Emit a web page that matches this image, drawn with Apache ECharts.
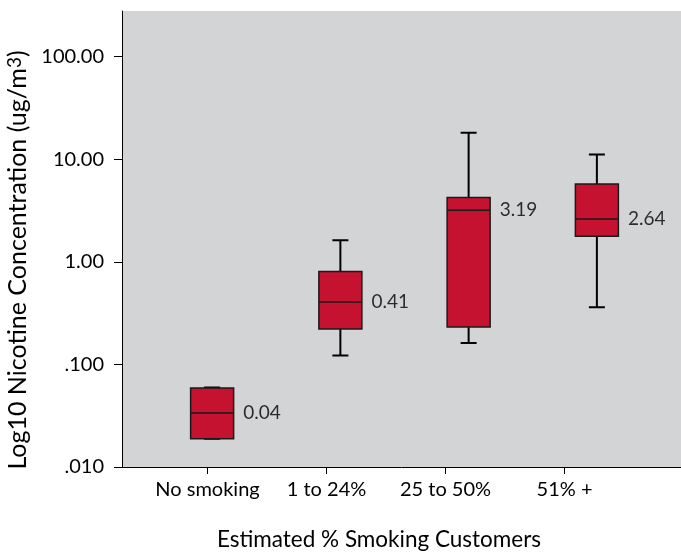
<!DOCTYPE html>
<html><head><meta charset="utf-8">
<script src="https://cdn.jsdelivr.net/npm/echarts@6/dist/echarts.min.js"></script>
<style>html,body{margin:0;padding:0;background:#fff}#c{width:681px;height:552px}</style>
</head><body><div id="c"></div>
<script>
const categories = ['No smoking', '1 to 24%', '25 to 50%', '51% +'];
const whiskerMin = [0.0189, 0.122, 0.162, 0.360];
const q1 = [0.0189, 0.221, 0.231, 1.77];
const median = [0.0336, 0.405, 3.17, 2.61];
const q3 = [0.0589, 0.805, 4.24, 5.73];
const whiskerMax = [0.0597, 1.62, 18.1, 11.1];
const medianLabels = ['0.04', '0.41', '3.19', '2.64'];
const yTickValues = [0.01, 0.1, 1, 10, 100];
const yTickLabels = ['.010', '.100', '1.00', '10.00', '100.00'];

const FONT = 'Lato';
const yMin = 0.01, yMax = 278;

const chart = echarts.init(document.getElementById('c'), null, {renderer: 'canvas'});
const yLabelFor = v => {
  const i = yTickValues.findIndex(t => Math.abs(Math.log10(t / v)) < 1e-6);
  return i >= 0 ? yTickLabels[i] : '';
};

chart.setOption({
  animation: false,
  grid: [
    {left: 122, right: 0, top: 11, bottom: 85, show: true, backgroundColor: '#d3d4d6', borderWidth: 0, outerBoundsMode: 'none', containLabel: false},
    {left: 148, right: 20, top: 11, bottom: 85, outerBoundsMode: 'none', containLabel: false},
    {left: 148, right: 57, top: 11, bottom: 85, outerBoundsMode: 'none', containLabel: false}
  ],
  xAxis: [
    {gridIndex: 0, type: 'value', min: 0, max: 1,
     axisLine: {show: true, onZero: false, lineStyle: {color: '#000', width: 1}},
     axisTick: {show: false}, axisLabel: {show: false}, splitLine: {show: false}},
    {gridIndex: 1, type: 'category', data: categories, show: false, position: 'bottom'},
    {gridIndex: 2, type: 'category', data: categories,
     axisLine: {show: false},
     axisTick: {show: true, alignWithLabel: true, length: 7, lineStyle: {color: '#000', width: 1}},
     axisLabel: {show: true, interval: 0, margin: 13, fontSize: 20, fontFamily: FONT, color: '#000'},
     splitLine: {show: false},
     name: 'Estimated % Smoking Customers', nameLocation: 'middle', nameGap: 61,
     nameTextStyle: {fontSize: 22.5, fontFamily: FONT, color: '#000', padding: [0, 14, 0, 0]}},
    {gridIndex: 1, type: 'category', data: categories, show: false, position: 'top'}
  ],
  yAxis: [
    {gridIndex: 0, type: 'log', logBase: 10, min: yMin, max: yMax,
     axisLine: {show: true, lineStyle: {color: '#000', width: 1}},
     axisTick: {show: true, length: 8, lineStyle: {color: '#000', width: 1}, customValues: yTickValues},
     axisLabel: {show: true, margin: 18, fontSize: 20, fontFamily: FONT, color: '#000',
                 customValues: yTickValues, formatter: yLabelFor},
     splitLine: {show: false},
     name: '{a|Log10 Nicotine Concentration (ug/m}{s|3}{a|)}',
     nameLocation: 'middle', nameGap: 83,
     nameTextStyle: {
       padding: [0, 42, 0, 0],
       rich: {
         a: {fontSize: 25, fontFamily: FONT, color: '#000'},
         s: {fontSize: 19, fontFamily: FONT, color: '#000', padding: [0, 0, 6, 0]}
       }
     }},
    {gridIndex: 1, type: 'log', logBase: 10, min: yMin, max: yMax, show: false},
    {gridIndex: 2, type: 'value', show: false}
  ],
  series: [
    {
      type: 'boxplot', xAxisIndex: 1, yAxisIndex: 1, silent: true,
      boxWidth: [16, 16],
      itemStyle: {color: 'rgba(0,0,0,0)', borderColor: '#000', borderWidth: 2},
      data: categories.map((c, i) => [whiskerMin[i], median[i], median[i], median[i], whiskerMax[i]])
    },
    {
      type: 'boxplot', xAxisIndex: 3, yAxisIndex: 1, silent: true,
      boxWidth: [43, 43],
      itemStyle: {color: '#c41230', borderColor: '#1a1a1a', borderWidth: 1.5},
      data: categories.map((c, i) => [q1[i], q1[i], median[i], q3[i], q3[i]])
    },
    {
      type: 'scatter', xAxisIndex: 1, yAxisIndex: 1, silent: true,
      symbolSize: 0,
      data: categories.map((c, i) => [i, median[i]]),
      label: {show: true, position: 'right', distance: 31, fontSize: 19, fontFamily: FONT, color: '#000',
              formatter: p => medianLabels[p.dataIndex]}
    }
  ]
});
</script>
</body></html>
